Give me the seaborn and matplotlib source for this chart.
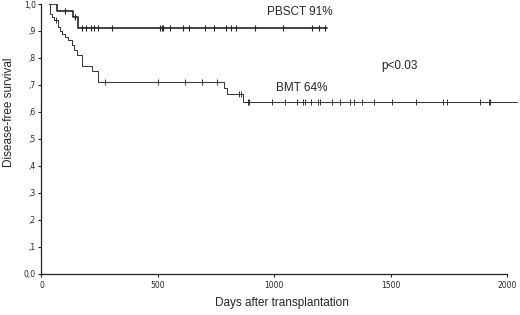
import numpy as np
import pandas as pd
import matplotlib
matplotlib.use('Agg')
import matplotlib.pyplot as plt
import seaborn as sns

### data
# PBSCT: event days and survival after each step
pbsct_start, pbsct_end = 37, 1228
pbsct_days = [67, 137, 156]
pbsct_surv = [0.974, 0.952, 0.91]
pbsct_cens = [101, 146, 173, 191, 211, 227, 244, 304, 509, 517, 523, 552, 609, 634,
              703, 741, 792, 815, 836, 917, 1039, 1161, 1194, 1218]

# BMT
bmt_start, bmt_end = 34, 2043
bmt_days = [35, 45, 54, 71, 80, 88, 100, 114, 129, 140, 153, 174, 217, 244, 784, 796, 867]
bmt_surv = [0.963, 0.95, 0.94, 0.915, 0.90, 0.89, 0.878, 0.867, 0.848, 0.83, 0.81,
            0.77, 0.752, 0.712, 0.69, 0.666, 0.638]
bmt_cens = [64, 273, 502, 617, 688, 755, 850, 856, 889, 893, 989, 1046, 1097, 1122, 1132,
            1156, 1190, 1197, 1247, 1283, 1326, 1343, 1375, 1428, 1505, 1610, 1724, 1741,
            1885, 1921, 1925]

ytick_vals = [0.0, 0.1, 0.2, 0.3, 0.4, 0.5, 0.6, 0.7, 0.8, 0.9, 1.0]
ytick_labels = ['0,0', ',1', ',2', ',3', ',4', ',5', ',6', ',7', ',8', ',9', '1,0']
xtick_vals = [0, 500, 1000, 1500, 2000]


def curve(start, end, days, surv):
    t = [start] + days + [end]
    s = [1.0] + surv + [surv[-1]]
    return pd.DataFrame({'day': t, 'surv': s})


def at(df, days):
    idx = np.searchsorted(df['day'].values, days, side='right') - 1
    return pd.DataFrame({'day': days, 'surv': df['surv'].values[idx]})


pb = curve(pbsct_start, pbsct_end, pbsct_days, pbsct_surv)
bm = curve(bmt_start, bmt_end, bmt_days, bmt_surv)
pb_c = at(pb, pbsct_cens)
bm_c = at(bm, bmt_cens)

### plot
sns.set_style('white')
plt.rcParams['font.family'] = ['Liberation Sans', 'DejaVu Sans']

fig = plt.figure(figsize=(5.2, 3.15), dpi=100)
ax = fig.add_axes([0.0798, 0.1302, 0.9175, 0.8571])

sns.lineplot(data=pb, x='day', y='surv', drawstyle='steps-post', estimator=None,
             sort=True, color='#222222', linewidth=1.2, ax=ax)
sns.lineplot(data=bm, x='day', y='surv', drawstyle='steps-post', estimator=None,
             sort=True, color='#333333', linewidth=0.7, ax=ax)
sns.scatterplot(data=pb_c, x='day', y='surv', marker='|', s=20, color='#222222',
                linewidth=0.8, ax=ax)
sns.scatterplot(data=bm_c, x='day', y='surv', marker='|', s=16, color='#333333',
                linewidth=0.7, ax=ax)

ax.set_xlim(0, 2050)
ax.set_ylim(0, 1.0)
sns.despine(ax=ax)
ax.spines['bottom'].set_bounds(0, 2000)
for sp in ['left', 'bottom']:
    ax.spines[sp].set_linewidth(0.9)
    ax.spines[sp].set_color('#222222')

ax.set_xticks(xtick_vals)
ax.set_xticklabels([str(v) for v in xtick_vals], family='DejaVu Sans', fontsize=5.5)
ax.set_yticks(ytick_vals)
ax.set_yticklabels(ytick_labels, family='DejaVu Sans', fontsize=5.5)
ax.tick_params(axis='both', direction='out', length=2.5, width=0.8, color='#222222',
               pad=1.5, bottom=True, left=True)
ax.tick_params(axis='x', pad=2.5)

ax.set_xlabel('Days after transplantation', fontsize=8.5)
ax.set_ylabel('Disease-free survival', fontsize=8.5)
ax.xaxis.set_label_coords(0.503, -0.085)
ax.yaxis.set_label_coords(-0.055, 0.60)

ax.text(970, 0.97, 'PBSCT 91%', fontsize=8.5, va='center', ha='left')
ax.text(1006, 0.689, 'BMT 64%', fontsize=8.5, va='center', ha='left')
ax.text(1458, 0.771, 'p<0.03', fontsize=8.5, va='center', ha='left')

fig.savefig('out.png', dpi=100)
